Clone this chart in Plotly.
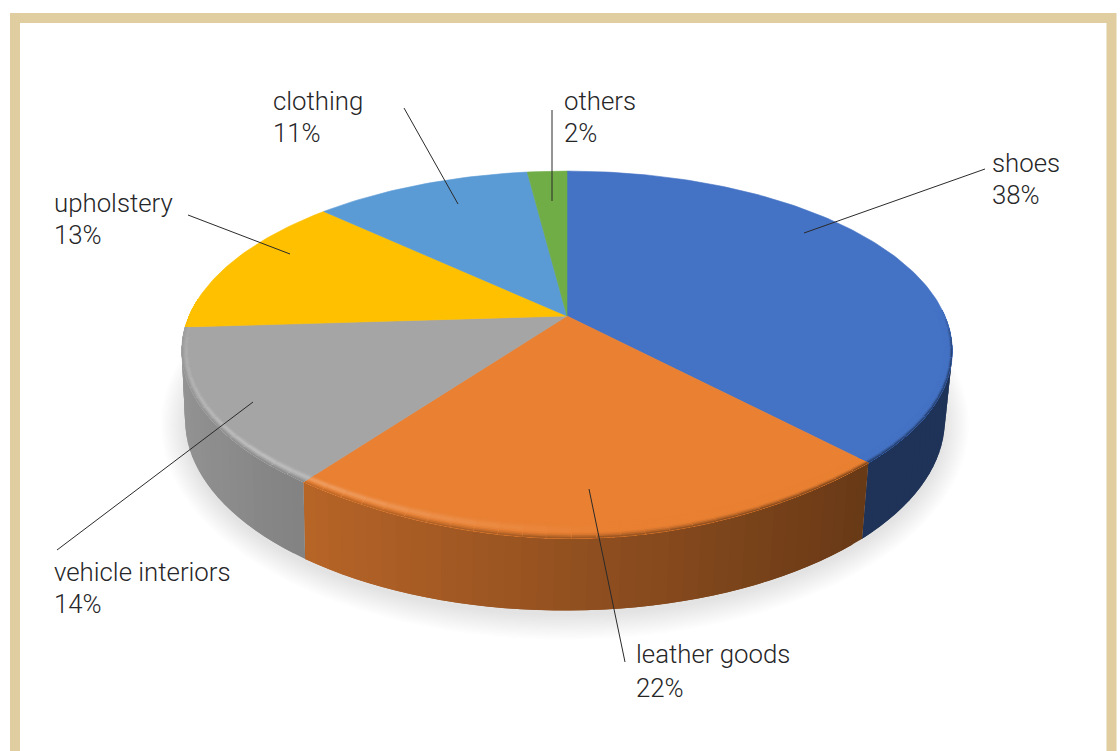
import numpy as np
import plotly.graph_objects as go

# Shares of leather use by end market, clockwise from twelve o'clock
categories = ["shoes", "leather goods", "vehicle interiors", "upholstery", "clothing", "others"]
shares = [38, 22, 14, 13, 11, 2]
colors = ["#4472C4", "#E98032", "#A5A5A5", "#FFC000", "#5B9BD5", "#70AD47"]

# Label anchors: text left edge, name centre line, percent centre line
label_x = [992, 636, 54, 54, 273, 564]
name_y = [163, 654, 572, 203, 101, 101]
pct_y = [195, 688, 604, 235, 133, 133]

# Leader lines: outer end, inner end
leaders = [
    (985, 169, 804, 233),
    (625, 662, 589, 489),
    (57, 550, 253, 402),
    (188, 215, 290, 254),
    (404, 108, 458, 204),
    (552, 110, 552, 201),
]

W, H = 1120, 751
CX, CY = 567, 316
RX, RY, PERSP = 378, 173, 0.194
# Outline of the top face and of the base, as plain ellipses
TOP = dict(cx=567.0, cy=351.0, a=385.4, b=180.0)
BASE = dict(cx=565.0, cy=420.0, a=380.0, b=191.0)


def unit(theta):
    """Perspective projection of a rim point, in the top face's ellipse coordinates."""
    u, v = np.sin(theta), np.cos(theta)
    d = 1 + PERSP * v
    px = RX * u / d
    py = -RY * v / d + CY
    return (px + CX - TOP["cx"]) / TOP["a"], (py - TOP["cy"]) / TOP["b"]


def top_edge(theta, inset=0.0):
    ex, ey = unit(theta)
    x = TOP["cx"] + ex * TOP["a"]
    # The near rim swells slightly where the disc faces the viewer
    off = np.clip((np.degrees(theta) - 178) / 40, -1, 1)
    y = TOP["cy"] + ey * TOP["b"] + 8 * np.cos(off * np.pi / 2) ** 2
    # Inset runs along the radius so wedge boundaries stay straight
    band = np.hypot(8 * ex, 16 * ey) * inset
    length = np.hypot(x - CX, y - CY)
    s = band / length
    return x + (CX - x) * s, y + (CY - y) * s


def base_edge(theta, grow=0.0, dy=0.0):
    ex, ey = unit(theta)
    return BASE["cx"] + ex * (BASE["a"] + grow), BASE["cy"] + ey * (BASE["b"] + grow) + dy


def mix(a, b, t):
    return tuple(x + (y - x) * t for x, y in zip(a, b))


def rgb(hex_color):
    return tuple(int(hex_color[i:i + 2], 16) for i in (1, 3, 5))


def css(c):
    return "rgb({},{},{})".format(*[int(round(max(0, min(255, x)))) for x in c])


def polygon(x, y, color, edge=False):
    return go.Scatter(
        x=x, y=y, mode="lines", fill="toself", fillcolor=color,
        line=dict(color=color if edge else "rgba(0,0,0,0)", width=0.6 if edge else 0),
        hoverinfo="skip", showlegend=False,
    )


def side_factor(theta):
    return max(0.45, min(0.9, 0.63 - 0.27 * np.sin(theta)))


def highlight(theta):
    # Light catches the bevel on the front-left of the disc
    deg = np.degrees(theta)
    return float(np.clip(1 - abs(deg - 225) / 50, 0, 1))


def front_weight(theta):
    # The bevel fades out toward the far half of the disc
    return float(np.clip((-np.cos(theta) + 0.02) / 0.2, 0, 1))


edges = 2 * np.pi * np.cumsum([0] + shares) / sum(shares)
fig = go.Figure()

# Soft cast shadow beneath the disc
tt = np.linspace(0, 2 * np.pi, 181)
for grow in np.linspace(24, 0, 14):
    sx, sy = base_edge(tt, grow=grow, dy=5)
    fig.add_trace(polygon(sx, sy, "rgba(50,60,70,0.011)"))

# Extruded side wall, built from narrow vertical strips painted left to right over each other
for i, color in enumerate(colors):
    base = rgb(color)
    a0, a1 = edges[i], edges[i + 1]
    n = max(2, int(np.degrees(a1 - a0) / 2))
    aa = np.linspace(a0, a1, n + 1)
    step = aa[1] - aa[0]
    for t0 in aa[:-1]:
        mid = t0 + step / 2
        if np.cos(mid) > -PERSP + 0.02:
            continue
        # Each strip reaches back over its neighbour, hiding the joint
        ts = np.linspace(t0, min(t0 + 2 * step, a1), 4)
        xt, yt = top_edge(ts)
        xb, yb = base_edge(ts[::-1])
        shade = css(tuple(c * side_factor(mid) for c in base))
        fig.add_trace(polygon(np.r_[xt, xb, xt[0]], np.r_[yt, yb, yt[0]], shade))

# Top face, one wedge per category
for i, color in enumerate(colors):
    aa = np.linspace(edges[i], edges[i + 1], max(3, int(np.degrees(edges[i + 1] - edges[i]))))
    ex, ey = top_edge(aa)
    fig.add_trace(polygon(np.r_[CX, ex, CX], np.r_[CY, ey, CY], color, edge=True))

# Rounded bevel along the near rim, drawn ring by ring from the inside out
insets = np.linspace(1.0, 0.0, 11)
for i, color in enumerate(colors):
    base = rgb(color)
    a0, a1 = edges[i], edges[i + 1]
    n = max(2, int(np.degrees(a1 - a0) / 3))
    aa = np.linspace(a0, a1, n + 1)
    step = aa[1] - aa[0]
    for t0 in aa[:-1]:
        mid = t0 + step / 2
        w = front_weight(mid)
        if w <= 0:
            continue
        dark = tuple(c * side_factor(mid) for c in base)
        light = mix(base, (255, 255, 255), 0.28)
        t1 = min(t0 + 2 * step, a1)
        ts = np.linspace(t0, t1, 4)
        for k in range(len(insets) - 1):
            f = (k + 0.5) / (len(insets) - 1)
            bump = np.exp(-((f - 0.45) / 0.22) ** 2)
            c = mix(base, light, highlight(mid) * bump)
            c = mix(c, dark, max(0.0, (f - 0.6) / 0.4) ** 1.6)
            c = mix(base, c, w)
            xa, ya = top_edge(ts, insets[k])
            xb, yb = top_edge(ts[::-1], 0.0)
            fig.add_trace(polygon(np.r_[xa, xb, xa[0]], np.r_[ya, yb, ya[0]], css(c)))

# Frame runs off the bottom of the page
shapes = [
    dict(type="rect", x0=15, y0=18, x1=1111.5, y1=H + 20, layer="below",
         line=dict(color="#E0CDA0", width=10), fillcolor="white"),
]
for x0, y0, x1, y1 in leaders:
    shapes.append(dict(type="line", x0=x0, y0=y0, x1=x1, y1=y1,
                       line=dict(color="#2a2a2a", width=1)))

annotations = []
for name, share, x, yn, yp in zip(categories, shares, label_x, name_y, pct_y):
    for text, y in ((name, yn), (f"{share}%", yp)):
        annotations.append(dict(x=x, y=y, text=text, showarrow=False, xanchor="left",
                                yanchor="middle", xshift=-2,
                                font=dict(family="Roboto", size=25.8, weight=300, color="#262628")))

fig.update_layout(
    width=W, height=H, margin=dict(l=0, r=0, t=0, b=0),
    paper_bgcolor="white", plot_bgcolor="white", showlegend=False,
    xaxis=dict(range=[0, W], visible=False, fixedrange=True),
    yaxis=dict(range=[H, 0], visible=False, fixedrange=True),
    shapes=shapes, annotations=annotations,
)
fig.write_html("out.html", config={"displayModeBar": False})
